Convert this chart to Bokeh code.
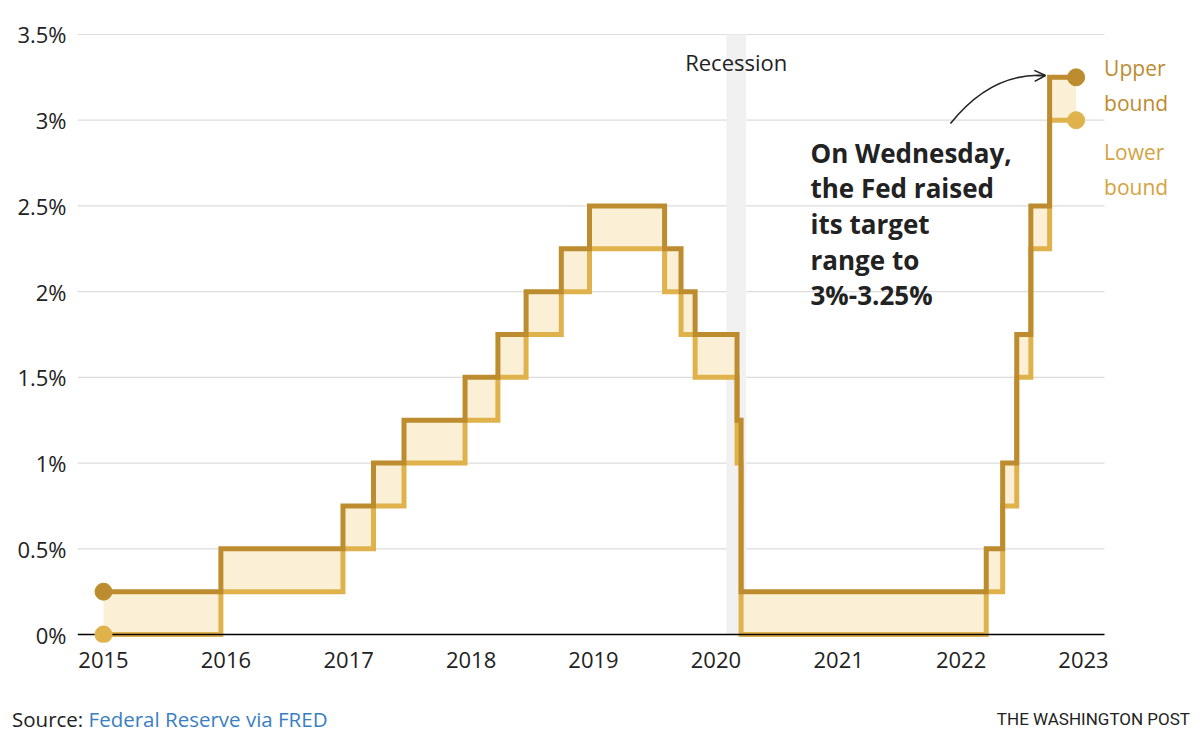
import pandas as pd
from bokeh.plotting import figure
from bokeh.layouts import column
from bokeh.models import Range1d, FixedTicker, DatetimeTickFormatter, Label, Arrow, OpenHead, Div
from bokeh.embed import file_html
from bokeh.resources import INLINE

# ---- data ----
dates = ["2015-01-01", "2015-12-17", "2016-12-15", "2017-03-16", "2017-06-15",
         "2017-12-14", "2018-03-22", "2018-06-14", "2018-09-27", "2018-12-20",
         "2019-08-01", "2019-09-19", "2019-10-31", "2020-03-04", "2020-03-16",
         "2022-03-17", "2022-05-05", "2022-06-16", "2022-07-28", "2022-09-22",
         "2022-12-10"]
upper = [0.25, 0.5, 0.75, 1.0, 1.25, 1.5, 1.75, 2.0, 2.25, 2.5,
         2.25, 2.0, 1.75, 1.25, 0.25, 0.5, 1.0, 1.75, 2.5, 3.25, 3.25]
lower = [0.0, 0.25, 0.5, 0.75, 1.0, 1.25, 1.5, 1.75, 2.0, 2.25,
         2.0, 1.75, 1.5, 1.0, 0.0, 0.25, 0.75, 1.5, 2.25, 3.0, 3.0]
recession = ["2020-02-01", "2020-03-31"]
y_ticks = [0, 0.5, 1, 1.5, 2, 2.5, 3, 3.5]
y_tick_labels = ["0%", "0.5%", "1%", "1.5%", "2%", "2.5%", "3%", "3.5%"]
x_tick_years = [2015, 2016, 2017, 2018, 2019, 2020, 2021, 2022, 2023]
note_lines = ["On Wednesday,", "the Fed raised", "its target", "range to", "3%-3.25%"]
source_label = "Source:"
source_name = "Federal Reserve via FRED"
credit = "THE WASHINGTON POST"

# ---- style ----
UPPER_C = "#bc8c2e"
LOWER_C = "#e0b24c"
LOWER_TXT = "#d4a33e"
FILL_C = "#fbf0d6"
TEXT_C = "#222222"
FONT = "Open Sans"

YEAR_MS = 365.25 * 24 * 3600 * 1000
PX_PER_YEAR = 122.5
PX_PER_UNIT = 171.43


def ms(s):
    return pd.Timestamp(s).value / 1e6


dt = pd.to_datetime(dates)
t2015 = ms("2015-01-01")
# frame spans pixel x 77..1184, pixel y 28..642 (value 0 at 634)
x_start = t2015 - (103 - 77) / PX_PER_YEAR * YEAR_MS
x_end = t2015 + (1184 - 103) / PX_PER_YEAR * YEAR_MS
x_grid_end = t2015 + (1104 - 103) / PX_PER_YEAR * YEAR_MS
y_start = -8 / PX_PER_UNIT
y_end = y_start + 614 / PX_PER_UNIT


def px2x(px):
    return t2015 + (px - 103) / PX_PER_YEAR * YEAR_MS


def px2y(py):
    return (634 - py) / PX_PER_UNIT


p = figure(width=1184, height=690, x_axis_type="datetime",
           x_range=Range1d(x_start, x_end), y_range=Range1d(y_start, y_end),
           output_backend="svg", toolbar_location=None,
           min_border_left=77, min_border_right=0, min_border_top=28, min_border_bottom=48)
p.outline_line_color = None
p.background_fill_color = "white"
p.border_fill_color = "white"
p.xgrid.grid_line_color = None
p.ygrid.grid_line_color = None

# axes
p.yaxis.ticker = FixedTicker(ticks=y_ticks)
p.yaxis.major_label_overrides = {float(t): l for t, l in zip(y_ticks, y_tick_labels)}
p.xaxis.ticker = FixedTicker(ticks=[ms(f"{y}-01-01") for y in x_tick_years])
p.xaxis.formatter = DatetimeTickFormatter(years="%Y", months="%Y", days="%Y")
for ax in (p.xaxis, p.yaxis):
    ax.axis_line_color = None
    ax.major_tick_line_color = None
    ax.minor_tick_line_color = None
    ax.major_tick_out = 0
    ax.major_tick_in = 0
    ax.minor_tick_out = 0
    ax.major_label_text_font = FONT
    ax.major_label_text_font_size = "22px"
    ax.major_label_text_color = TEXT_C
p.yaxis.major_label_standoff = 11
p.xaxis.major_label_standoff = 9

# horizontal grid lines (limited to the data area)
p.segment(x0=[x_start] * len(y_ticks), x1=[x_grid_end] * len(y_ticks),
          y0=y_ticks, y1=y_ticks, line_color="#dcdcdc", line_width=1.2)

# recession band
p.quad(left=[pd.Timestamp(recession[0])], right=[pd.Timestamp(recession[1])],
       bottom=[0], top=[3.5], fill_color="#f1f1f1", line_color=None)

# range fill and step lines
p.varea_step(x=dt, y1=lower, y2=upper, step_mode="after", fill_color=FILL_C)
p.step(dt, lower, mode="after", line_width=5, line_color=LOWER_C, line_join="miter")
p.step(dt, upper, mode="after", line_width=5, line_color=UPPER_C, line_join="miter")

# zero baseline
p.line(x=[x_start, x_grid_end], y=[0, 0], line_color="black", line_width=1.6)

# end dots
p.scatter(x=[dt[0], dt[-1]], y=[lower[0], lower[-1]], size=17, color=LOWER_C)
p.scatter(x=[dt[0], dt[-1]], y=[upper[0], upper[-1]], size=17, color=UPPER_C)

# recession label
rec_mid = (ms(recession[0]) + ms(recession[1])) / 2
p.add_layout(Label(x=rec_mid, y=3.5, y_offset=-28, text="Recession", text_align="center",
                   text_baseline="middle", text_font=FONT, text_font_size="22px",
                   text_color=TEXT_C))

# bound labels
x_last = ms(dates[-1])
for txt, yv, off, col in [("Upper", upper[-1], 9, UPPER_C), ("bound", upper[-1], -26, UPPER_C),
                          ("Lower", lower[-1], -32, LOWER_TXT), ("bound", lower[-1], -67, LOWER_TXT)]:
    p.add_layout(Label(x=x_last, y=yv, x_offset=28, y_offset=off, text=txt,
                       text_align="left", text_baseline="middle", text_font=FONT,
                       text_font_size="21px", text_color=col))

# annotation text
for i, line in enumerate(note_lines):
    p.add_layout(Label(x=px2x(810), y=px2y(152 + i * 35.7), text=line, text_align="left",
                       text_baseline="middle", text_font=FONT, text_font_style="bold",
                       text_font_size="26px", text_color=TEXT_C))

# arrow
p.bezier(x0=[px2x(950)], y0=[px2y(123)], x1=[px2x(1044)], y1=[px2y(75)],
         cx0=[px2x(978)], cy0=[px2y(88)], cx1=[px2x(1010)], cy1=[px2y(73)],
         line_color="#222222", line_width=1.6)
p.add_layout(Arrow(end=OpenHead(size=11, line_width=1.6, line_color="#222222"),
                   x_start=px2x(1036), y_start=px2y(75.3), x_end=px2x(1045), y_end=px2y(75),
                   line_width=1.6, line_color="#222222"))

# footer
footer_html = (
    '<div style="position:relative;width:1184px;height:44px;">'
    f'<span style="position:absolute;left:12px;top:16px;line-height:26px;'
    f'font-family:\'Open Sans\';font-size:20.5px;color:{TEXT_C};white-space:nowrap;">'
    f'{source_label} <span style="color:#3a7fc2;">{source_name}</span></span>'
    f'<span style="position:absolute;right:-6px;top:18px;line-height:22px;'
    f'font-family:Roboto;font-size:17px;color:{TEXT_C};white-space:nowrap;">{credit}</span>'
    '</div>'
)
footer = Div(text=footer_html, width=1184, height=44, margin=(0, 0, 0, 0))

layout = column(p, footer, spacing=0)
open("out.html", "w").write(file_html(layout, INLINE))
